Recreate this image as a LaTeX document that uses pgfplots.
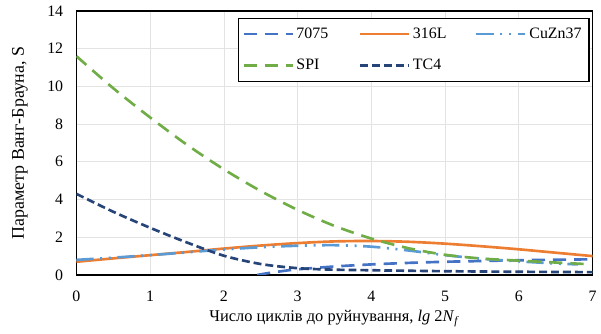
\documentclass[border=0pt]{standalone}
\usepackage{pgfplots}
\pgfplotsset{compat=1.18}
\usepackage{fontspec}
\setmainfont{Liberation Serif}
\definecolor{cA}{HTML}{4472C4}
\definecolor{cB}{HTML}{ED7D31}
\definecolor{cC}{HTML}{5B9BD5}
\definecolor{cD}{HTML}{70AD47}
\definecolor{cE}{HTML}{264478}
\begin{document}
\begin{tikzpicture}
\begin{axis}[
  scale only axis, width=390pt, height=199.5pt,
  xmin=0, xmax=7, ymin=0, ymax=14,
  xtick={0,...,7}, ytick={0,2,...,14},
  grid=major, major grid style={gray!22, line width=0.6pt},
  major tick length=0pt,
  axis line style={black, line width=1.1pt},
  /pgf/number format/assume math mode=true,
  tick label style={font=\fontsize{12}{14}\selectfont},
  xticklabel style={anchor=base, yshift=-20pt},
  yticklabel style={xshift=-6.5pt},
  xlabel={Число циклів до руйнування, \textit{lg} 2\textit{N}\textsubscript{\textit{f}}},
  ylabel={Параметр Ванг-Брауна, S},
  xlabel style={font=\fontsize{12.4}{14}\selectfont, at={(axis description cs:0.5,0)}, anchor=base, yshift=-35.25pt},
  ylabel style={font=\fontsize{13.5}{15}\selectfont, at={(axis description cs:-0.1096,0.5)}, anchor=center, rotate=0},
  legend columns=3,
  legend cell align=left,
  legend style={at={(0.994,0.974)}, anchor=north east, draw=black, line width=0.8pt,
    font=\fontsize{12}{14}\selectfont, inner xsep=3pt, inner ysep=5pt,
    nodes={text width=40pt},
    /tikz/every even column/.append style={column sep=5pt}, row sep=10.5pt},
  legend image code/.code={\draw[#1, line width=2pt] (0pt,0pt) -- (37pt,0pt);},
  every axis plot/.append style={line width=2pt, smooth, tension=0.5},
]
\addplot[cA, dash pattern=on 10pt off 6pt] coordinates {
(2.45,0) (2.6,0.1) (2.8,0.21) (3,0.3) (3.5,0.45) (4,0.56) (4.5,0.64) (5,0.7) (5.5,0.74) (6,0.78) (6.5,0.81) (7,0.83)};
\addlegendentry{7075}
\addplot[cB] coordinates {
(0,0.7) (0.5,0.88) (1,1.05) (1.5,1.22) (2,1.4) (2.5,1.56) (3,1.69) (3.5,1.78) (4,1.8) (4.5,1.76) (5,1.66) (5.5,1.52) (6,1.36) (6.5,1.18) (7,1.0)};
\addlegendentry{316L}
\addplot[cC, dash pattern=on 13pt off 5pt on 1.5pt off 5pt on 1.5pt off 5pt] coordinates {
(0,0.8) (0.5,0.92) (1,1.05) (1.5,1.2) (2,1.35) (2.5,1.47) (3,1.55) (3.5,1.58) (4,1.5) (4.5,1.3) (5,1.05) (5.5,0.86) (6,0.72) (6.5,0.61) (6.8,0.56)};
\addlegendentry{CuZn37}
\addplot[cD, dash pattern=on 10pt off 6pt] coordinates {
(0,11.6) (0.5,9.9) (1,8.35) (1.5,6.9) (2,5.6) (2.5,4.45) (3,3.45) (3.5,2.6) (4,1.93) (4.5,1.42) (5,1.07) (5.5,0.87) (6,0.76) (6.5,0.66) (6.9,0.58)};
\addlegendentry{SPI}
\addplot[cE, dash pattern=on 6pt off 3pt] coordinates {
(0,4.3) (0.5,3.35) (1,2.5) (1.5,1.72) (2,1.02) (2.5,0.58) (3,0.36) (3.5,0.28) (4,0.25) (5,0.2) (6,0.17) (7,0.15)};
\addlegendentry{TC4}
\end{axis}
\path (current axis.south west) ++(-57.75pt,-44.25pt) coordinate (bl);
\path (current axis.north east) ++(3pt,8.25pt) coordinate (tr);
\useasboundingbox (bl) rectangle (tr);
\end{tikzpicture}
\end{document}
